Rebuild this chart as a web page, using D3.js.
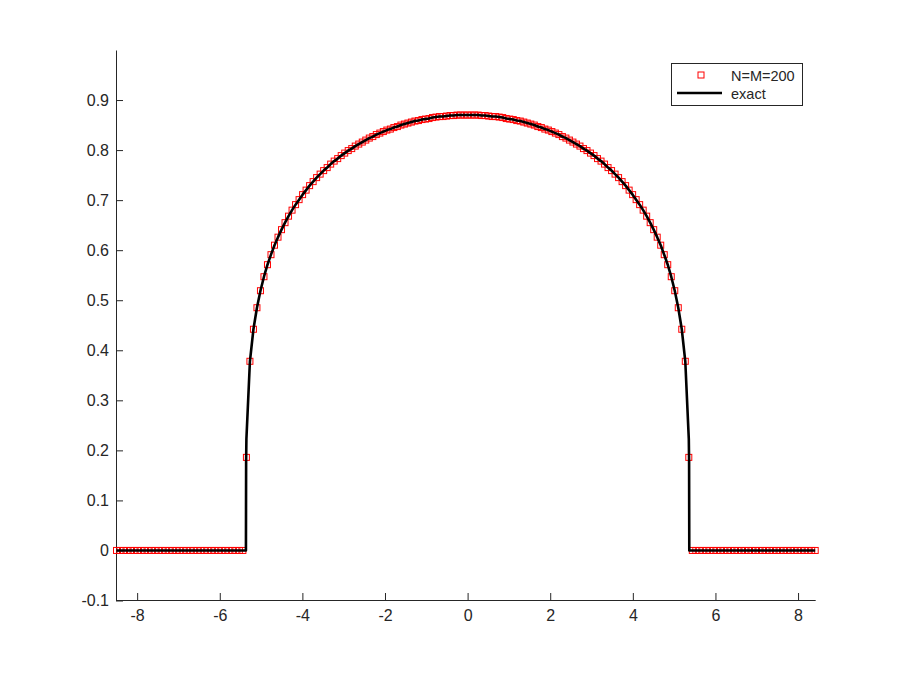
<!DOCTYPE html>
<html>
<head>
<meta charset="utf-8">
<script src="https://cdn.jsdelivr.net/npm/d3@7"></script>
<style>
  body { margin: 0; background: #fff; }
  text { font-family: "Liberation Sans", Arial, Helvetica, sans-serif; fill: #262626; }
</style>
</head>
<body>
<svg id="chart" width="900" height="675"></svg>
<script>
const N = 200
const xStart = -8.5
const dx = 0.085
const xDomain = [-8.5, 8.415]
const yDomain = [-0.1, 1.0]
const xTicks = [-8, -6, -4, -2, 0, 2, 4, 6, 8]
const xTickLabels = ['-8', '-6', '-4', '-2', '0', '2', '4', '6', '8']
const yTicks = [-0.1, 0, 0.1, 0.2, 0.3, 0.4, 0.5, 0.6, 0.7, 0.8, 0.9]
const yTickLabels = ['-0.1', '0', '0.1', '0.2', '0.3', '0.4', '0.5', '0.6', '0.7', '0.8', '0.9']

// profile, grid points from x = 0 going outward (step 0.085)
const profile = [
  0.870, 0.870, 0.870, 0.870, 0.869, 0.869, 0.868, 0.867, 0.867, 0.866,
  0.865, 0.863, 0.862, 0.861, 0.859, 0.858, 0.856, 0.854, 0.852, 0.850,
  0.847, 0.845, 0.842, 0.840, 0.837, 0.834, 0.831, 0.827, 0.824, 0.820,
  0.816, 0.812, 0.808, 0.803, 0.799, 0.794, 0.789, 0.783, 0.778, 0.772,
  0.765, 0.759, 0.752, 0.745, 0.737, 0.729, 0.720, 0.711, 0.701, 0.691,
  0.680, 0.668, 0.655, 0.641, 0.626, 0.610, 0.591, 0.571, 0.547, 0.519,
  0.485, 0.442, 0.378
]
// last grid point before the front: numerical value, and the exact curve dropping at the front
const numTail = [0.186]
const exactTail = [[5.355, 0.223], [5.362, 0.177], [5.3666, 0]]

const legendItems = ['N=M=200', 'exact']

const svg = d3.select('#chart')

const x = d3.scaleLinear().domain(xDomain).range([116.5, 815.2])
const y = d3.scaleLinear().domain(yDomain).range([600.5, 50])

// grid of the numerical solution, x = -8.5 + i*dx
const gridX = d3.range(N).map(i => xStart + i * dx)
const half = profile.concat(numTail)
const numPoints = gridX.map((gx, i) => {
    let k = Math.abs(i - N / 2)
    return { x: gx, y: k < half.length ? half[k] : 0 }
})

// exact solution: flat zero, front, profile, front, flat zero
let rightSide = profile.map((v, k) => [k * dx, v]).concat(exactTail)
let leftSide = rightSide.slice(1).map(d => [-d[0], d[1]]).reverse()
const exactPoints = [[xDomain[0], 0]].concat(leftSide, rightSide, [[xDomain[1], 0]])

// axes, ticks pointing inward
svg.append('g')
    .attr('transform', `translate(0,${y.range()[0] - 0.5})`)
    .call(d3.axisBottom(x).tickValues(xTicks).tickFormat((d, i) => xTickLabels[i])
        .tickSizeInner(-7).tickSizeOuter(0).tickPadding(10))
svg.append('g')
    .attr('transform', `translate(${x.range()[0] - 0.5},0)`)
    .call(d3.axisLeft(y).tickValues(yTicks).tickFormat((d, i) => yTickLabels[i])
        .tickSizeInner(-7).tickSizeOuter(0).tickPadding(7))

svg.selectAll('.domain, .tick line').attr('stroke', '#262626')
svg.selectAll('.tick text')
    .attr('fill', '#262626')
    .style('font-size', '16px')
    .style('font-family', '"Liberation Sans", Arial, sans-serif')

// numerical markers
svg.append('g')
    .selectAll('rect')
    .data(numPoints)
    .join('rect')
    .attr('x', d => x(d.x) - 3)
    .attr('y', d => y(d.y) - 3)
    .attr('width', 6)
    .attr('height', 6)
    .attr('fill', 'none')
    .attr('stroke', '#ff0000')
    .attr('stroke-width', 1)

// exact line
svg.append('path')
    .datum(exactPoints)
    .attr('d', d3.line().x(d => x(d[0])).y(d => y(d[1])))
    .attr('fill', 'none')
    .attr('stroke', '#000')
    .attr('stroke-width', 2.6)
    .attr('stroke-linejoin', 'round')

// legend
const legend = svg.append('g')
legend.append('rect')
    .attr('x', 671.5).attr('y', 63.5).attr('width', 131).attr('height', 42)
    .attr('fill', '#fff').attr('stroke', '#262626').attr('stroke-width', 1)
legend.append('rect')
    .attr('x', 698).attr('y', 72).attr('width', 6).attr('height', 6)
    .attr('fill', 'none').attr('stroke', '#ff0000')
legend.append('line')
    .attr('x1', 677).attr('x2', 722).attr('y1', 93).attr('y2', 93)
    .attr('stroke', '#000').attr('stroke-width', 2.6)
legend.selectAll('text.lbl')
    .data(legendItems)
    .join('text')
    .attr('class', 'lbl')
    .attr('x', 731)
    .attr('y', (d, i) => 81 + i * 18)
    .style('font-size', '14.5px')
    .text(d => d)
</script>
</body>
</html>
